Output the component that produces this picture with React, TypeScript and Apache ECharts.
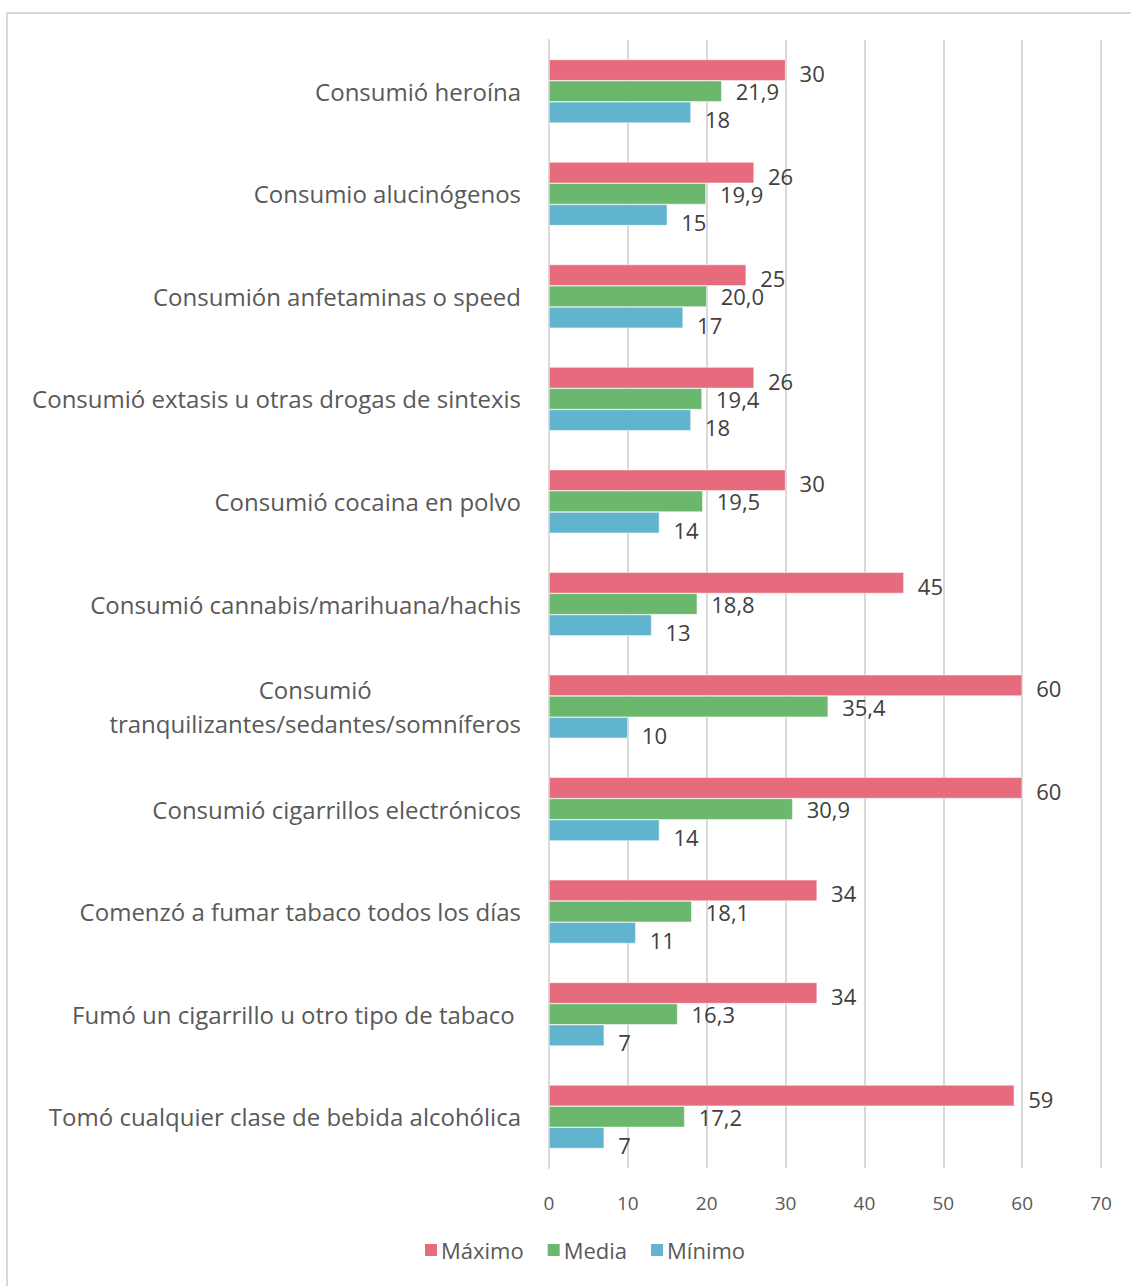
import React, { useEffect, useRef } from "react";
import * as echarts from "echarts";

const categories = [
  "Consumió heroína",
  "Consumio alucinógenos",
  "Consumión anfetaminas o speed",
  "Consumió extasis u otras drogas de sintexis",
  "Consumió cocaina en polvo",
  "Consumió cannabis/marihuana/hachis",
  "Consumió\ntranquilizantes/sedantes/somníferos",
  "Consumió cigarrillos electrónicos",
  "Comenzó a fumar tabaco todos los días",
  "Fumó un cigarrillo u otro tipo de tabaco ",
  "Tomó cualquier clase de bebida alcohólica",
];
const maximo = [30, 26, 25, 26, 30, 45, 60, 60, 34, 34, 59];
const media = [21.9, 19.9, 20.0, 19.4, 19.5, 18.8, 35.4, 30.9, 18.1, 16.3, 17.2];
const minimo = [18, 15, 17, 18, 14, 13, 10, 14, 11, 7, 7];
const seriesNames = ["Máximo", "Media", "Mínimo"];
const colors = ["#E66C7D", "#6BB76E", "#60B4CD"];
const labelOffsets = [3, 0, 7];

const FONT = "'Open Sans', sans-serif";

export default function App() {
  const ref = useRef<HTMLDivElement>(null);
  useEffect(() => {
    if (!ref.current) return;
    const chart = echarts.init(ref.current, undefined, { renderer: "svg" });
    const mkLabel = (i: number) => ({
      show: true,
      position: "right" as const,
      distance: 14,
      offset: [0, labelOffsets[i]],
      fontFamily: FONT,
      fontSize: 22,
      lineHeight: 22,
      color: "#404040",
      formatter: (p: any) =>
        i === 1 ? Number(p.value).toFixed(1).replace(".", ",") : String(p.value),
    });
    const datas = [maximo, media, minimo];
    chart.setOption({
      animation: false,
      backgroundColor: "#ffffff",
      graphic: [
        {
          type: "rect",
          shape: { x: 7, y: 13, width: 1300, height: 1400 },
          style: { fill: "none", stroke: "#D9D9D9", lineWidth: 2 },
          silent: true,
        },
      ],
      grid: { left: 549, right: 30, top: 40, bottom: 118, containLabel: false },
      legend: {
        bottom: 20,
        left: 418,
        itemWidth: 14,
        itemHeight: 14,
        itemGap: 22,
        icon: "rect",
        textStyle: { fontFamily: FONT, fontSize: 22, color: "#595959", padding: [0, 0, 0, -2] },
        data: seriesNames,
      },
      xAxis: {
        type: "value",
        min: 0,
        max: 70,
        interval: 10,
        axisLine: { show: false },
        axisTick: { show: false },
        axisLabel: { fontFamily: FONT, fontSize: 19, color: "#595959", margin: 25 },
        splitLine: { show: true, lineStyle: { color: "#D9D9D9", width: 2 } },
      },
      yAxis: {
        type: "category",
        inverse: true,
        data: categories,
        axisLine: { show: true, lineStyle: { color: "#D9D9D9", width: 2 } },
        axisTick: { show: false },
        axisLabel: {
          margin: 28,
          align: "right",
          formatter: (v: string) =>
            v
              .split("\n")
              .map((l) => "{c|" + l + "}")
              .join("\n"),
          rich: {
            c: {
              align: "center",
              fontFamily: FONT,
              fontSize: 24,
              color: "#595959",
              lineHeight: 34,
            },
          },
        },
      },
      series: seriesNames.map((name, i) => ({
        name,
        type: "bar",
        data: datas[i],
        barGap: "0%",
        barCategoryGap: "38%",
        itemStyle: { color: colors[i], borderColor: "#ffffff", borderWidth: 0.5 },
        label: mkLabel(i),
      })),
    });
    return () => chart.dispose();
  }, []);
  return (
    <div
      ref={ref}
      style={{ position: "fixed", left: 0, top: 0, width: 1131, height: 1286, background: "#fff" }}
    />
  );
}
